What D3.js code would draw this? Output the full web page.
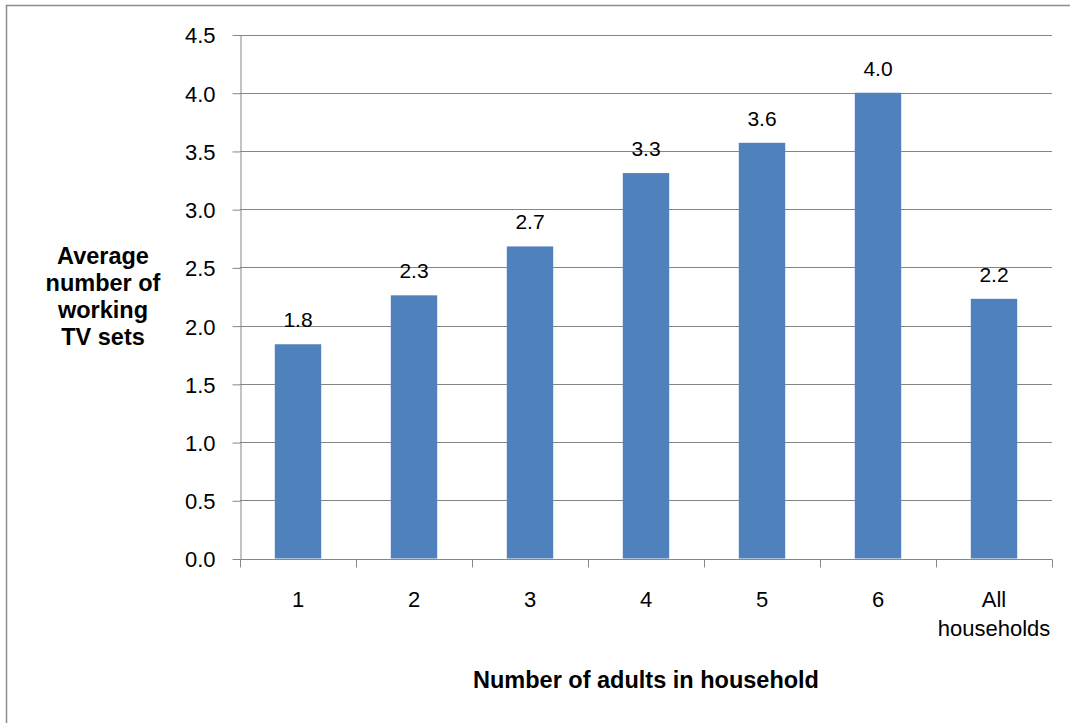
<!DOCTYPE html>
<html>
<head>
<meta charset="utf-8">
<script src="https://cdn.jsdelivr.net/npm/d3@7"></script>
<style>
  html, body { margin: 0; padding: 0; background: #fff; }
  svg { display: block; font-family: "Liberation Sans", Arial, sans-serif; }
</style>
</head>
<body>
<svg id="chart" width="1070" height="723"></svg>
<script>
// Average number of working TV sets by number of adults in the household
const categories = ["1", "2", "3", "4", "5", "6", "All households"];
const tvSets = [1.84, 2.26, 2.68, 3.31, 3.57, 4.00, 2.23];
const yTicks = [0, 0.5, 1.0, 1.5, 2.0, 2.5, 3.0, 3.5, 4.0, 4.5];
const yTitleLines = ["Average", "number of", "working", "TV sets"];
const xTitle = "Number of adults in household";

const svg = d3.select("#chart");
const plot = { left: 240, right: 1052, top: 34.5, bottom: 558.5 };
const gridColor = "#868686";
const barColor = "#4F81BD";

// outer frame
svg.append("rect")
  .attr("x", 6.5).attr("y", 5.5)
  .attr("width", 1070).attr("height", 730)
  .attr("fill", "none").attr("stroke", "#8c8c8c").attr("stroke-width", 1.5);

const x = d3.scaleBand().domain(categories).range([plot.left, plot.right]).padding(0);
const y = d3.scaleLinear().domain([0, 4.5]).range([plot.bottom, plot.top]);
const barW = x.bandwidth() * 0.4;

// horizontal gridlines
svg.append("g").selectAll("line").data(yTicks.filter(v => v > 0)).join("line")
  .attr("x1", plot.left).attr("x2", plot.right)
  .attr("y1", d => Math.round(y(d)) + 0.5).attr("y2", d => Math.round(y(d)) + 0.5)
  .attr("stroke", gridColor).attr("stroke-width", 1);

// y axis
const yAxis = svg.append("g")
  .attr("transform", `translate(${plot.left + 0.5},0.5)`)
  .call(d3.axisLeft(y).tickValues(yTicks).tickFormat(d3.format(".1f"))
    .tickSizeInner(8).tickSizeOuter(0).tickPadding(17));
yAxis.select(".domain").attr("stroke", gridColor);
yAxis.selectAll(".tick line").attr("stroke", gridColor);
yAxis.selectAll(".tick text")
  .attr("font-family", "'Liberation Sans', Arial, sans-serif")
  .attr("font-size", 22).attr("fill", "#000").attr("dy", "0.36em");

// bars
svg.append("g").selectAll("rect").data(categories).join("rect")
  .attr("x", (d) => x(d) + (x.bandwidth() - barW) / 2)
  .attr("y", (d, i) => y(tvSets[i]))
  .attr("width", barW)
  .attr("height", (d, i) => y(0) - y(tvSets[i]))
  .attr("fill", barColor);

// value labels
svg.append("g").selectAll("text").data(categories).join("text")
  .attr("x", d => x(d) + x.bandwidth() / 2)
  .attr("y", (d, i) => y(tvSets[i]) - 17)
  .attr("text-anchor", "middle")
  .attr("font-size", 21).attr("fill", "#000")
  .text((d, i) => d3.format(".1f")(tvSets[i]));

// x axis line and boundary ticks
const xAxisY = Math.round(plot.bottom) + 0.5;
svg.append("line")
  .attr("x1", plot.left).attr("x2", plot.right)
  .attr("y1", xAxisY).attr("y2", xAxisY)
  .attr("stroke", gridColor);
const boundaries = categories.map(d => x(d)).concat([plot.right]);
svg.append("g").selectAll("line").data(boundaries).join("line")
  .attr("x1", d => Math.round(d) + 0.5).attr("x2", d => Math.round(d) + 0.5)
  .attr("y1", xAxisY).attr("y2", xAxisY + 8)
  .attr("stroke", gridColor);

// category labels (multi-word labels wrap onto separate lines)
const catText = svg.append("g").selectAll("text").data(categories).join("text")
  .attr("text-anchor", "middle")
  .attr("font-size", 22).attr("fill", "#000");
catText.each(function(d) {
  const t = d3.select(this);
  d.split(" ").forEach((w, k) => {
    t.append("tspan")
      .attr("x", x(d) + x.bandwidth() / 2)
      .attr("y", 607 + k * 29)
      .text(w);
  });
});

// y axis title
svg.append("g").selectAll("text").data(yTitleLines).join("text")
  .attr("x", 103)
  .attr("y", (d, i) => 264 + i * 27)
  .attr("text-anchor", "middle")
  .attr("font-size", 23.5).attr("font-weight", "bold").attr("fill", "#000")
  .text(d => d);

// x axis title
svg.append("text")
  .attr("x", (plot.left + plot.right) / 2)
  .attr("y", 688)
  .attr("text-anchor", "middle")
  .attr("font-size", 23.5).attr("font-weight", "bold").attr("fill", "#000")
  .text(xTitle);
</script>
</body>
</html>
